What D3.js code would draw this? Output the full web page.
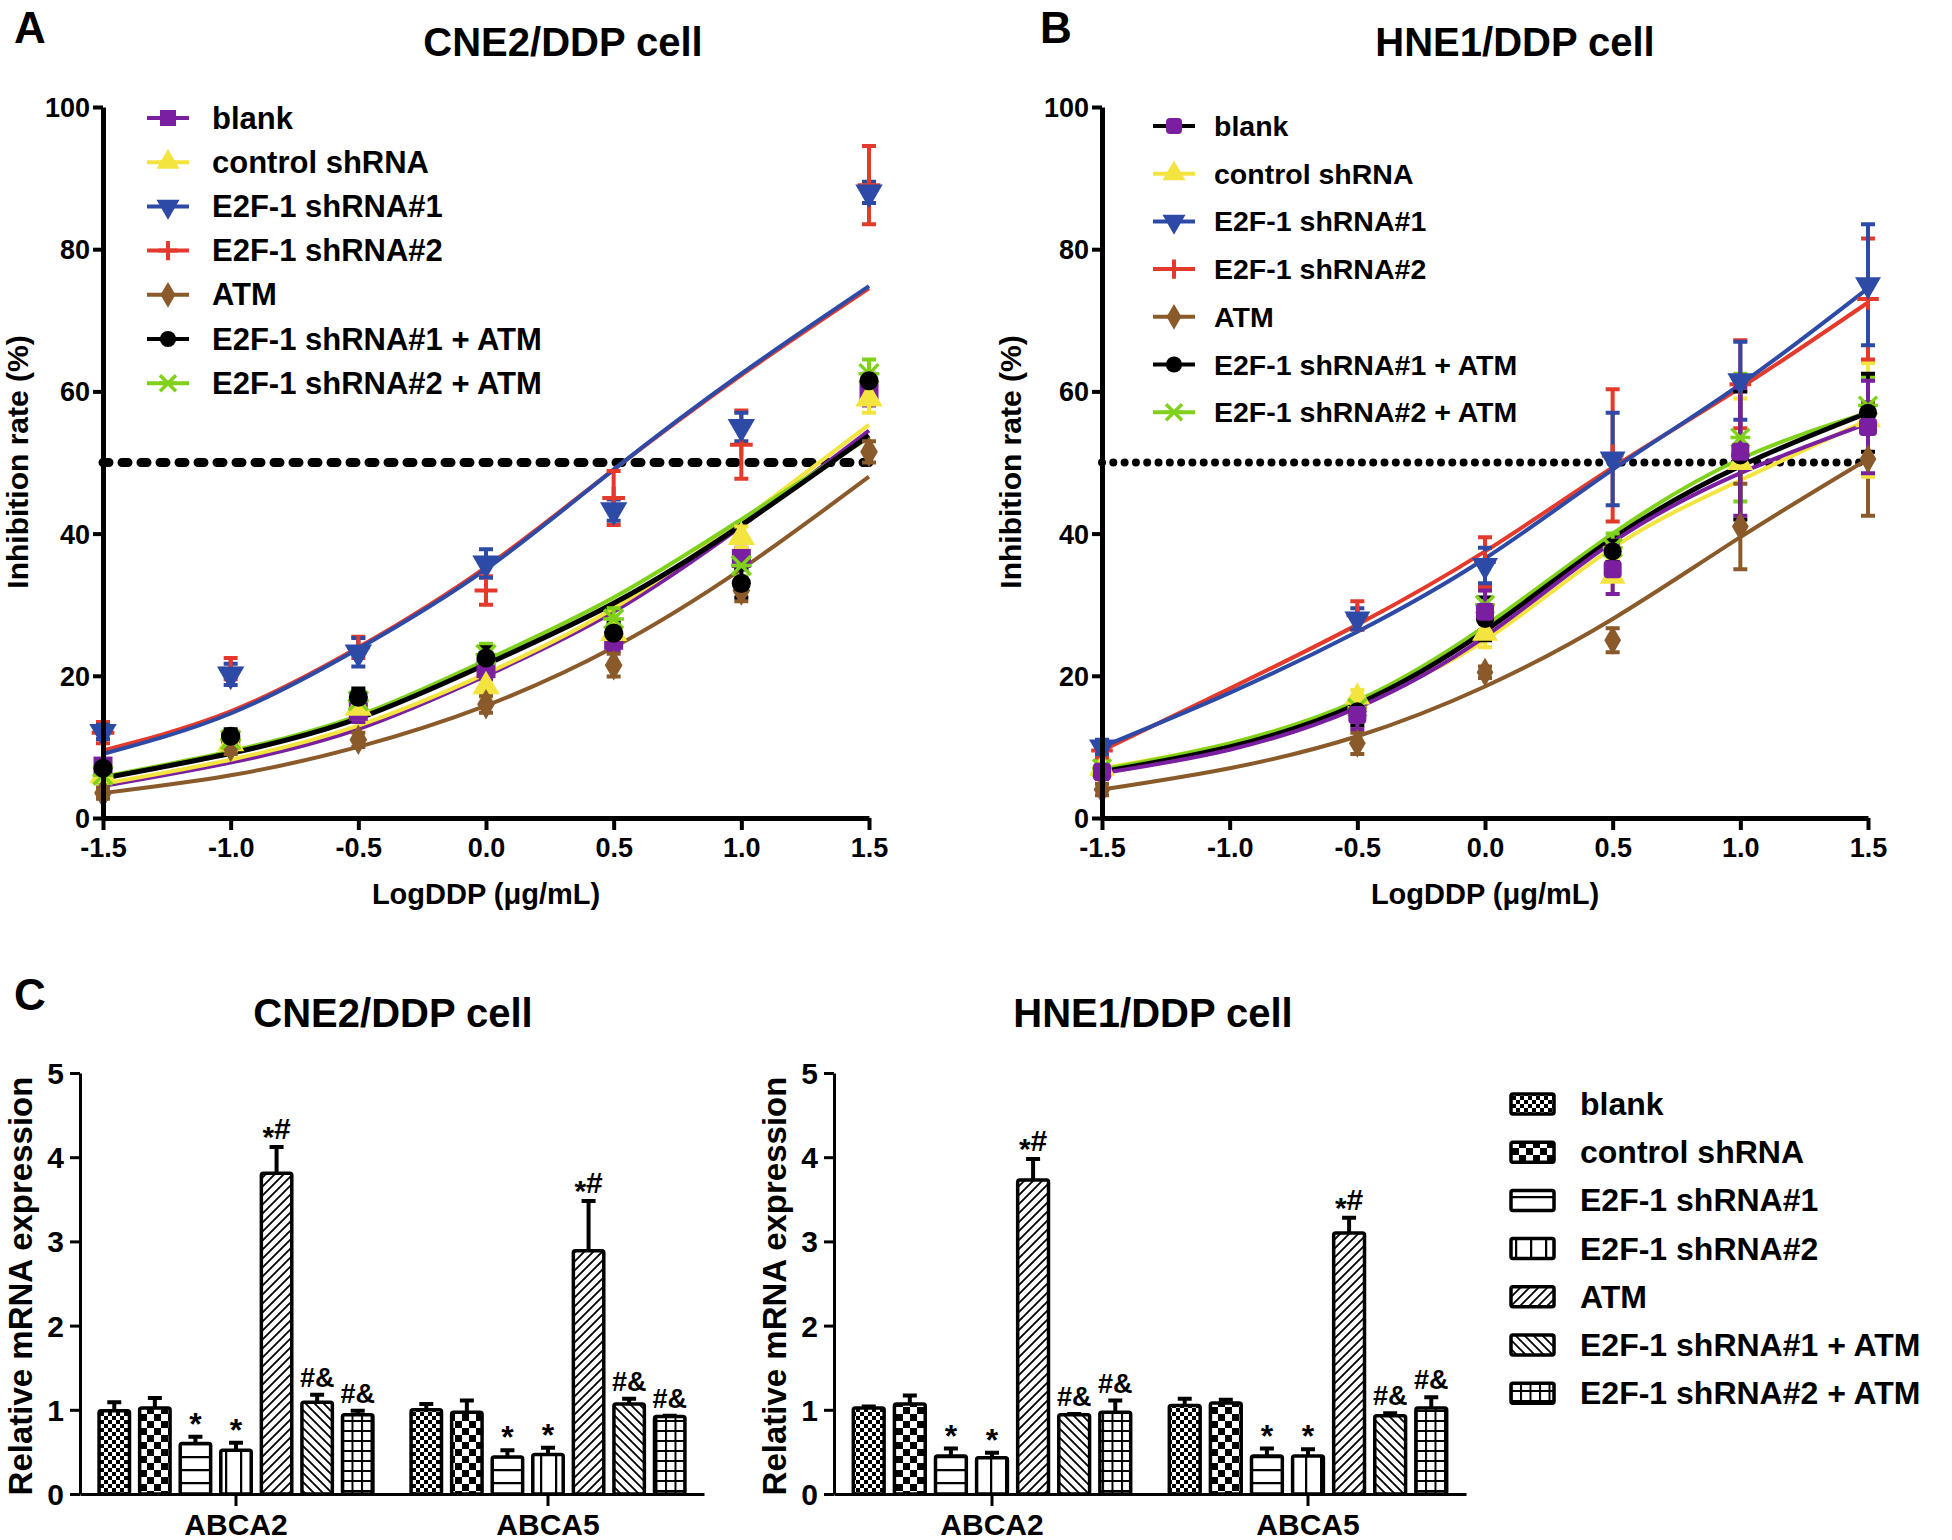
<!DOCTYPE html>
<html><head><meta charset="utf-8">
<script src="https://cdn.jsdelivr.net/npm/d3@7"></script>
<style>
body{margin:0;background:#fff;}
text{font-family:"Liberation Sans",Arial,Helvetica,sans-serif;font-weight:bold;fill:#000;}
</style></head><body>
<svg id="chart" width="1952" height="1540" xmlns="http://www.w3.org/2000/svg"></svg>
<script>
// ---------------- DATA ----------------
const seriesNames = ["blank","control shRNA","E2F-1 shRNA#1","E2F-1 shRNA#2","ATM","E2F-1 shRNA#1 + ATM","E2F-1 shRNA#2 + ATM"];
const seriesColors = ["#7a1fa0","#f3e43f","#2d4ba6","#e43a2b","#8a5a2a","#000000","#7fd11b"];
const doseTicks = [-1.5,-1.0,-0.5,0.0,0.5,1.0,1.5];
const yTicksLine = [0,20,40,60,80,100];
const dosesA = [-1.5,-1.0,-0.5,0.0,0.5,1.0,1.5];
const dosesB = [-1.5,-0.5,0.0,0.5,1.0,1.5];
const fitDoses = [-1.5,-1.0,-0.5,0.0,0.5,1.0,1.5];

// Panel A (CNE2/DDP) mean inhibition rate (%) and SEM
const blankA    = [7.3, 10.8, 15.0, 21.0, 25.0, 36.5, 60.0];
const controlA  = [6.0, 10.5, 15.5, 18.5, 26.0, 39.5, 59.0];
const sh1A      = [12.1, 20.2, 23.3, 35.8, 43.3, 55.0, 88.0];
const sh2A      = [12.0, 21.0, 24.0, 32.0, 45.0, 52.5, 89.0];
const atmA      = [3.5, 10.0, 11.0, 16.0, 21.5, 32.0, 51.5];
const sh1atmA   = [7.0, 11.5, 17.0, 22.5, 26.0, 33.0, 61.5];
const sh2atmA   = [6.0, 11.0, 16.5, 23.0, 28.0, 35.5, 62.5];
const blankErrA   = [1.0, 1.0, 1.5, 1.5, 1.5, 1.5, 2.0];
const controlErrA = [1.0, 1.0, 1.5, 1.5, 1.5, 1.5, 2.0];
const sh1ErrA     = [1.0, 1.5, 2.0, 2.0, 1.5, 2.0, 1.5];
const sh2ErrA     = [1.5, 1.5, 1.5, 2.0, 3.8, 4.8, 5.5];
const atmErrA     = [0.8, 1.0, 1.0, 1.2, 1.6, 1.5, 1.5];
const sh1atmErrA  = [1.0, 1.0, 1.2, 1.5, 1.5, 2.0, 1.0];
const sh2atmErrA  = [1.0, 1.0, 1.5, 1.5, 1.5, 1.5, 2.0];
// Panel A fitted curves (read at fitDoses)
const blankFitA   = [4.5, 7.8, 12.5, 20.0, 29.0, 41.0, 54.5];
const controlFitA = [4.8, 8.2, 13.0, 20.3, 29.5, 41.8, 55.3];
const sh1FitA     = [9.0, 14.7, 23.8, 35.0, 49.0, 62.5, 74.8];
const sh2FitA     = [9.5, 15.0, 24.0, 35.3, 49.0, 62.3, 74.5];
const atmFitA     = [3.5, 6.0, 10.0, 15.8, 24.0, 35.0, 48.0];
const sh1atmFitA  = [5.6, 9.1, 14.0, 21.6, 30.2, 41.2, 53.8];
const sh2atmFitA  = [5.8, 9.4, 14.4, 22.2, 31.0, 42.0, 53.5];

// Panel B (HNE1/DDP)
const blankB    = [6.5, 14.5, 29.0, 35.0, 51.5, 55.0];
const controlB  = [7.0, 17.0, 26.0, 34.0, 50.0, 56.0];
const sh1B      = [10.0, 28.0, 35.5, 50.5, 61.5, 75.0];
const sh2B      = [9.5, 28.5, 36.0, 51.0, 61.0, 73.0];
const atmB      = [4.0, 10.5, 20.5, 25.0, 41.0, 50.5];
const sh1atmB   = [6.5, 15.0, 28.0, 37.5, 51.0, 57.0];
const sh2atmB   = [7.0, 15.5, 30.0, 38.0, 53.5, 58.0];
const blankErrB   = [1.0, 2.0, 3.0, 3.5, 9.0, 6.5];
const controlErrB = [1.0, 1.0, 2.0, 2.5, 9.0, 8.0];
const sh1ErrB     = [1.0, 1.5, 2.5, 6.5, 5.5, 8.5];
const sh2ErrB     = [1.0, 2.0, 3.5, 9.3, 6.2, 8.5];
const atmErrB     = [0.8, 1.5, 0.8, 1.7, 6.0, 8.0];
const sh1atmErrB  = [1.0, 2.0, 3.0, 1.5, 9.0, 5.5];
const sh2atmErrB  = [1.0, 1.5, 2.0, 2.0, 9.0, 4.0];
const blankFitB   = [6.3, 9.6, 15.5, 25.5, 38.8, 48.5, 55.5];
const controlFitB = [7.0, 10.5, 16.2, 25.0, 38.0, 47.5, 56.0];
const sh1FitB     = [10.0, 17.6, 26.2, 36.5, 49.0, 61.0, 74.5];
const sh2FitB     = [9.5, 18.2, 27.2, 37.5, 49.3, 60.5, 72.5];
const atmFitB     = [4.0, 7.0, 11.5, 18.5, 28.0, 39.5, 50.5];
const sh1atmFitB  = [6.5, 10.0, 16.0, 26.3, 39.3, 49.5, 57.0];
const sh2atmFitB  = [6.8, 10.5, 16.5, 27.0, 40.0, 50.5, 57.0];

// Panel C relative mRNA expression
const genes = ["ABCA2","ABCA5"];
const yTicksBar = [0,1,2,3,4,5];
const cneABCA2    = [0.99, 1.02, 0.60, 0.52, 3.81, 1.09, 0.94];
const cneErrABCA2 = [0.10, 0.12, 0.08, 0.09, 0.31, 0.09, 0.05];
const cneABCA5    = [1.00, 0.97, 0.44, 0.47, 2.89, 1.07, 0.92];
const cneErrABCA5 = [0.07, 0.14, 0.08, 0.08, 0.59, 0.06, 0.01];
const hneABCA2    = [1.02, 1.07, 0.45, 0.43, 3.73, 0.94, 0.97];
const hneErrABCA2 = [0.02, 0.10, 0.09, 0.06, 0.25, 0.01, 0.14];
const hneABCA5    = [1.05, 1.08, 0.45, 0.45, 3.10, 0.93, 1.02];
const hneErrABCA5 = [0.08, 0.04, 0.09, 0.08, 0.18, 0.03, 0.13];
const sigMarks = ["", "", "*", "*", "*#", "#&", "#&"];

// ---------------- DRAW ----------------
const svg = d3.select("#chart");
svg.append("rect").attr("width",1952).attr("height",1540).attr("fill","#fff");
const defs = svg.append("defs");

function pat(id, w, h, draw){
  const p = defs.append("pattern").attr("id",id).attr("patternUnits","userSpaceOnUse")
    .attr("width",w).attr("height",h);
  p.append("rect").attr("width",w).attr("height",h).attr("fill","#fff");
  draw(p);
}
pat("p0",8,8,p=>{p.append("rect").attr("width",4).attr("height",4);p.append("rect").attr("x",4).attr("y",4).attr("width",4).attr("height",4);});
pat("p1",14,14,p=>{p.append("rect").attr("width",7).attr("height",7);p.append("rect").attr("x",7).attr("y",7).attr("width",7).attr("height",7);});
pat("p2",10,13,p=>{p.append("line").attr("x1",0).attr("x2",10).attr("y1",1).attr("y2",1).attr("stroke","#000").attr("stroke-width",2.5);});
pat("p3",15,10,p=>{p.append("line").attr("x1",1).attr("x2",1).attr("y1",0).attr("y2",10).attr("stroke","#000").attr("stroke-width",2.5);});
pat("p4",9,9,p=>{p.append("path").attr("d","M-2,11 L11,-2 M-2,2 L2,-2 M7,11 L11,7").attr("stroke","#000").attr("stroke-width",1.8);});
pat("p5",9,9,p=>{p.append("path").attr("d","M-2,-2 L11,11 M-2,7 L2,11 M7,-2 L11,2").attr("stroke","#000").attr("stroke-width",1.8);});
pat("p6",9.5,10,p=>{p.append("path").attr("d","M1,0 V10 M0,1 H9.5").attr("stroke","#000").attr("stroke-width",2);});
const fills = ["url(#p0)","url(#p1)","url(#p2)","url(#p3)","url(#p4)","url(#p5)","url(#p6)"];

function txt(x,y,s,size,anchor,opts={}){
  const t = svg.append("text").attr("x",x).attr("y",y).attr("font-size",size)
    .attr("text-anchor",anchor||"start").text(s);
  if(opts.rotate) t.attr("transform",`rotate(-90,${x},${y})`);
  if(opts.baseline) t.attr("dominant-baseline",opts.baseline);
  return t;
}

// panel letters and titles
txt(14,43,"A",44); txt(1040,43,"B",44); txt(14,1010,"C",44);
txt(563,56,"CNE2/DDP cell",40,"middle");
txt(1515,56,"HNE1/DDP cell",40,"middle");
txt(393,1027,"CNE2/DDP cell",40,"middle");
txt(1153,1027,"HNE1/DDP cell",40,"middle");

function markerPath(i, s){
  if(i===1) return d3.symbol(d3.symbolTriangle, s*s*0.9)();
  if(i===2) return d3.symbol(d3.symbolTriangle, s*s*0.9)();
  if(i===4) return d3.symbol(d3.symbolDiamond, s*s*0.75)();
  if(i===5) return d3.symbol(d3.symbolCircle, s*s*0.8)();
  return null;
}
function drawMarker(g, i, cx, cy, size, color, panel){
  const s = size;
  if(i===0){
    g.append("rect").attr("x",cx-s/2).attr("y",cy-s/2).attr("width",s).attr("height",s)
      .attr("rx",panel==="B"?4:0).attr("fill",color);
  } else if(i===3){
    g.append("path").attr("d",`M${cx-s*0.6},${cy}H${cx+s*0.6}M${cx},${cy-s*0.6}V${cy+s*0.6}`)
      .attr("stroke",color).attr("stroke-width",4).attr("fill","none");
  } else if(i===6){
    const r = s*0.5;
    g.append("path").attr("d",`M${cx-r},${cy-r}L${cx+r},${cy+r}M${cx-r},${cy+r}L${cx+r},${cy-r}M${cx-r*1.1},${cy}H${cx+r*1.1}`)
      .attr("stroke",color).attr("stroke-width",3.5).attr("fill","none");
  } else {
    g.append("path").attr("d",markerPath(i,s)).attr("fill",color)
      .attr("transform",`translate(${cx},${cy})${i===2?" rotate(180)":""}`);
  }
}

function linePanel(cfg){
  const x = d3.scaleLinear().domain([-1.5,1.5]).range(cfg.xr);
  const y = d3.scaleLinear().domain([0,100]).range([818,107]);
  const g = svg.append("g");
  g.append("line").attr("x1",x(-1.5)).attr("x2",x(1.5)).attr("y1",y(50)).attr("y2",y(50))
    .attr("stroke","#000").attr("stroke-width",cfg.dotW).attr("stroke-linecap","round")
    .attr("stroke-dasharray",cfg.dash);
  const ln = d3.line().x(d=>x(d[0])).y(d=>y(d[1])).curve(d3.curveNatural);
  cfg.order.forEach(i=>{
    g.append("path").attr("d",ln(fitDoses.map((d,k)=>[d,cfg.fits[i][k]])))
      .attr("fill","none").attr("stroke",seriesColors[i]).attr("stroke-width",i===5?5:4);
  });
  cfg.order.forEach(i=>{
    const col = seriesColors[i];
    cfg.doses.forEach((d,k)=>{
      const m = cfg.means[i][k], e = cfg.errs[i][k];
      const cx = x(d);
      g.append("path").attr("d",`M${cx},${y(m-e)}V${y(m+e)}M${cx-7},${y(m-e)}H${cx+7}M${cx-7},${y(m+e)}H${cx+7}`)
        .attr("stroke",col).attr("stroke-width",4).attr("fill","none");
    });
  });
  cfg.order.forEach(i=>{
    cfg.doses.forEach((d,k)=>{
      drawMarker(g,i,x(d),y(cfg.means[i][k]),cfg.ms,seriesColors[i],cfg.panel);
    });
  });
  const ax = g.append("g").attr("transform",`translate(0,818)`)
    .call(d3.axisBottom(x).tickValues(doseTicks).tickFormat(d=>d3.format(".1f")(d).replace("−","-")).tickSize(12).tickSizeOuter(0).tickPadding(8));
  const ay = g.append("g").attr("transform",`translate(${x(-1.5)},0)`)
    .call(d3.axisLeft(y).tickValues(yTicksLine).tickSize(10).tickSizeOuter(0).tickPadding(3));
  [ax,ay].forEach(a=>{
    a.select(".domain").attr("stroke","#000").attr("stroke-width",5);
    a.selectAll(".tick line").attr("stroke","#000").attr("stroke-width",4);
    a.selectAll(".tick text").attr("font-size",27).attr("font-family","Liberation Sans, Arial, sans-serif").attr("font-weight","bold").attr("fill","#000");
  });
  ay.selectAll(".tick text").attr("dy","0.35em");
  txt((x(-1.5)+x(1.5))/2,904,"LogDDP (μg/mL)",29,"middle");
  txt(cfg.ylx,462,"Inhibition rate (%)",30,"middle",{rotate:true,baseline:"central"});
  seriesNames.forEach((n,i)=>{
    const ly = cfg.legY0 + i*cfg.legStep;
    const lg = g.append("g");
    lg.append("line").attr("x1",cfg.legX-21).attr("x2",cfg.legX+21).attr("y1",ly).attr("y2",ly)
      .attr("stroke",(cfg.panel==="B"&&i===0)?"#000":seriesColors[i]).attr("stroke-width",4);
    drawMarker(lg,i,cfg.legX,ly,cfg.lms,seriesColors[i],cfg.panel);
    txt(cfg.legX+cfg.legTx,ly,n,cfg.legFont,"start",{baseline:"central"});
  });
}

linePanel({panel:"A", xr:[103,869], doses:dosesA,
  means:[blankA,controlA,sh1A,sh2A,atmA,sh1atmA,sh2atmA],
  errs:[blankErrA,controlErrA,sh1ErrA,sh2ErrA,atmErrA,sh1atmErrA,sh2atmErrA],
  fits:[blankFitA,controlFitA,sh1FitA,sh2FitA,atmFitA,sh1atmFitA,sh2atmFitA],
  order:[0,1,4,6,3,2,5], dotW:9, dash:"6 13", ms:19, lms:16, ylx:17,
  legX:168, legTx:44, legY0:118, legStep:44.2, legFont:31});
linePanel({panel:"B", xr:[1102,1868], doses:dosesB,
  means:[blankB,controlB,sh1B,sh2B,atmB,sh1atmB,sh2atmB],
  errs:[blankErrB,controlErrB,sh1ErrB,sh2ErrB,atmErrB,sh1atmErrB,sh2atmErrB],
  fits:[blankFitB,controlFitB,sh1FitB,sh2FitB,atmFitB,sh1atmFitB,sh2atmFitB],
  order:[4,1,6,5,3,2,0], dotW:8, dash:"0 11.3", ms:18, lms:16, ylx:1010,
  legX:1174, legTx:40, legY0:126, legStep:47.7, legFont:28.5});

// ---------- bar panels ----------
function barPanel(cfg){
  const y = d3.scaleLinear().domain([0,5]).range([1494,1073]);
  const x0 = d3.scaleBand().domain(genes).range(cfg.xr).padding(0);
  const x1 = d3.scaleBand().domain(d3.range(7)).range([0,x0.bandwidth()]).paddingInner(0.25).paddingOuter(0.47);
  const g = svg.append("g");
  genes.forEach((gene,gi)=>{
    const vals = cfg.vals[gi], errs = cfg.errs[gi];
    vals.forEach((v,i)=>{
      const bx = x0(gene)+x1(i), bw = x1.bandwidth(), cx = bx+bw/2;
      const top = y(v+errs[i]);
      g.append("path").attr("d",`M${cx},${y(v)}V${top}M${cx-7},${top}H${cx+7}`)
        .attr("stroke","#000").attr("stroke-width",4);
      g.append("rect").attr("x",bx).attr("y",y(v)).attr("width",bw).attr("height",y(0)-y(v))
        .attr("fill",fills[i]).attr("stroke","#000").attr("stroke-width",3.5).attr("rx",2);
      const m = sigMarks[i];
      if(m==="*"){
        txt(cx,top-2,"*",32,"middle");
      } else if(m==="*#"){
        const t = svg.append("text").attr("x",cx).attr("y",top-6).attr("text-anchor","middle").attr("font-size",30);
        t.append("tspan").attr("dy",6).text("*");
        t.append("tspan").attr("dy",-8).text("#");
      } else if(m==="#&"){
        txt(cx,top-8,"#&",27,"middle");
      }
    });
  });
  const ax = g.append("g").attr("transform",`translate(0,1494)`)
    .call(d3.axisBottom(x0).tickSize(12).tickSizeOuter(0).tickPadding(8));
  const ay = g.append("g").attr("transform",`translate(${cfg.xr[0]},0)`)
    .call(d3.axisLeft(y).tickValues(yTicksBar).tickFormat(d3.format("d")).tickSize(10).tickSizeOuter(0).tickPadding(6));
  [ax,ay].forEach(a=>{
    a.select(".domain").attr("stroke","#000").attr("stroke-width",3);
    a.selectAll(".tick line").attr("stroke","#000").attr("stroke-width",3);
    a.selectAll(".tick text").attr("font-size",30).attr("font-family","Liberation Sans, Arial, sans-serif").attr("font-weight","bold").attr("fill","#000");
  });
  ay.selectAll(".tick text").attr("dy","0.35em");
  txt(cfg.ylx,1286,"Relative mRNA expression",33,"middle",{rotate:true,baseline:"central"});
}
barPanel({xr:[80,704], vals:[cneABCA2,cneABCA5], errs:[cneErrABCA2,cneErrABCA5], ylx:20});
barPanel({xr:[834,1466], vals:[hneABCA2,hneABCA5], errs:[hneErrABCA2,hneErrABCA5], ylx:774});

// bar legend
seriesNames.forEach((n,i)=>{
  const ly = 1104 + i*48.2;
  svg.append("rect").attr("x",1511).attr("y",ly-10).attr("width",43).attr("height",20).attr("rx",2)
    .attr("fill",fills[i]).attr("stroke","#000").attr("stroke-width",3.5);
  txt(1580,ly,n,32,"start",{baseline:"central"});
});
</script>
</body></html>
